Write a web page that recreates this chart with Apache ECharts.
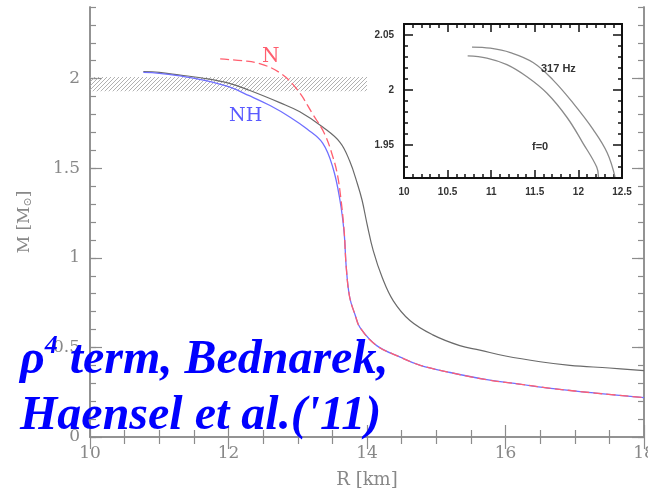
<!DOCTYPE html>
<html>
<head>
<meta charset="utf-8">
<script src="https://cdn.jsdelivr.net/npm/echarts@6/dist/echarts.min.js"></script>
<style>
  html, body { margin: 0; padding: 0; background: #fff; }
  #main { width: 648px; height: 493px; }
</style>
</head>
<body>
<div id="main"></div>
<script>
// main panel: M(R) curves
var blackR = [10.77, 11.0, 11.3, 11.6, 12.0, 12.3, 12.74, 13.03, 13.36, 13.61, 13.75, 13.86, 13.93, 14.0, 14.09, 14.22, 14.38, 14.62, 14.95, 15.34, 15.63, 16.0, 16.5, 16.93, 17.5, 18.0];
var blackM = [2.04, 2.035, 2.02, 2.005, 1.975, 1.935, 1.866, 1.815, 1.73, 1.645, 1.54, 1.415, 1.32, 1.19, 1.04, 0.89, 0.76, 0.65, 0.57, 0.51, 0.485, 0.452, 0.42, 0.40, 0.385, 0.37];

var nhR = [10.77, 11.0, 11.3, 11.6, 12.0, 12.3, 12.6, 12.89, 13.13, 13.36, 13.51, 13.61, 13.67, 13.70, 13.75, 13.83, 13.90, 14.14, 14.48, 14.77, 15.2, 15.73, 16.2, 16.69, 17.3, 18.0];
var nhM = [2.035, 2.03, 2.015, 1.995, 1.955, 1.905, 1.85, 1.785, 1.72, 1.64, 1.50, 1.32, 1.14, 0.95, 0.78, 0.68, 0.61, 0.51, 0.446, 0.40, 0.36, 0.32, 0.295, 0.27, 0.245, 0.22];

var nR = [11.88, 12.2, 12.45, 12.74, 12.99, 13.22, 13.39, 13.51, 13.57, 13.62, 13.67, 13.70, 13.75, 13.83, 13.90, 14.14, 14.48, 14.77, 15.2, 15.73, 16.2, 16.69, 17.3, 18.0];
var nM = [2.11, 2.10, 2.084, 2.033, 1.94, 1.80, 1.69, 1.56, 1.47, 1.34, 1.15, 0.95, 0.78, 0.68, 0.61, 0.51, 0.446, 0.40, 0.36, 0.32, 0.295, 0.27, 0.245, 0.22];

// observed mass band
var bandR = [10, 14];
var bandM = [1.93, 2.01];

// inset: rotating vs static
var hzR = [10.78, 10.99, 11.22, 11.48, 11.71, 11.94, 12.17, 12.33, 12.42];
var hzM = [2.039, 2.038, 2.034, 2.025, 2.009, 1.988, 1.964, 1.943, 1.921];
var f0R = [10.73, 10.95, 11.18, 11.41, 11.64, 11.87, 12.05, 12.21, 12.23];
var f0M = [2.031, 2.029, 2.023, 2.012, 1.997, 1.975, 1.952, 1.930, 1.921];

var mainYMajor = [0, 0.5, 1, 1.5, 2];
var insetYMajor = [1.95, 2, 2.05];

function zip(a, b) {
  return a.map(function (v, i) { return [v, b[i]]; });
}

// hatch pattern
var hatch = document.createElement('canvas');
hatch.width = 4; hatch.height = 4;
var ctx = hatch.getContext('2d');
ctx.strokeStyle = '#a8a8a8';
ctx.lineWidth = 0.9;
ctx.beginPath();
ctx.moveTo(0, 4); ctx.lineTo(4, 0);
ctx.moveTo(-1, 1); ctx.lineTo(1, -1);
ctx.moveTo(3, 5); ctx.lineTo(5, 3);
ctx.stroke();

var grayAx = { lineStyle: { color: '#8c8c8c', width: 1.5 } };
var blackAx = { lineStyle: { color: '#111', width: 2 } };
var serif = 'DejaVu Serif';

function mainX(pos, labels) {
  return {
    gridIndex: 0, type: 'value', position: pos, min: 10, max: 18, interval: 2,
    axisLine: grayAx, splitLine: { show: false },
    axisTick: { inside: true, length: 12, lineStyle: { color: '#8c8c8c', width: 1.2 } },
    minorTick: { show: true, splitNumber: 4, length: 7, lineStyle: { color: '#8c8c8c', width: 1.2 } },
    axisLabel: { show: labels, margin: 8, color: '#888', fontFamily: serif, fontSize: 17 },
    name: labels ? 'R [km]' : '', nameLocation: 'middle', nameGap: 34,
    nameTextStyle: { color: '#888', fontFamily: serif, fontSize: 18 }
  };
}
function mainYMinor(pos) {
  return {
    gridIndex: 0, type: 'value', position: pos, min: 0, max: 2.4, interval: 0.1,
    axisLine: grayAx, splitLine: { show: false },
    axisTick: { inside: true, length: 6, lineStyle: { color: '#8c8c8c', width: 1.2 } },
    axisLabel: { show: false }
  };
}
function mainYMaj(pos, labels) {
  return {
    gridIndex: 0, type: 'value', position: pos, min: 0, max: 2.4,
    axisLine: grayAx, splitLine: { show: false },
    axisTick: { inside: true, length: 12, customValues: mainYMajor, lineStyle: { color: '#8c8c8c', width: 1.2 } },
    axisLabel: { show: labels, customValues: mainYMajor, margin: 10, color: '#888', fontFamily: serif, fontSize: 17 },
    name: labels ? 'M [M{sub|⊙}]' : '', nameLocation: 'middle', nameGap: 56, nameRotate: 90,
    nameTextStyle: { color: '#888', fontFamily: serif, fontSize: 17,
      rich: { sub: { fontSize: 11, color: '#888', fontFamily: serif, verticalAlign: 'bottom', padding: [7, 0, 0, 0] } } }
  };
}
function insetX(pos, labels) {
  return {
    gridIndex: 1, type: 'value', position: pos, min: 10, max: 12.5, interval: 0.5,
    axisLine: blackAx, splitLine: { show: false },
    axisTick: { inside: true, length: 8, lineStyle: { color: '#111', width: 1.5 } },
    minorTick: { show: true, splitNumber: 5, length: 4, lineStyle: { color: '#111', width: 1.5 } },
    axisLabel: { show: labels, margin: 9, color: '#333', fontFamily: 'Liberation Sans', fontWeight: 'bold', fontSize: 10 }
  };
}
function insetYMinor(pos) {
  return {
    gridIndex: 1, type: 'value', position: pos, min: 1.92, max: 2.06, interval: 0.01,
    axisLine: blackAx, splitLine: { show: false },
    axisTick: { inside: true, length: 4, lineStyle: { color: '#111', width: 1.5 } },
    axisLabel: { show: false }
  };
}
function insetYMaj(pos, labels) {
  return {
    gridIndex: 1, type: 'value', position: pos, min: 1.92, max: 2.06,
    axisLine: blackAx, splitLine: { show: false },
    axisTick: { inside: true, length: 9, customValues: insetYMajor, lineStyle: { color: '#111', width: 1.5 } },
    axisLabel: { show: labels, customValues: insetYMajor, margin: 10, color: '#333', fontFamily: 'Liberation Sans', fontWeight: 'bold', fontSize: 10 }
  };
}

var myChart = echarts.init(document.getElementById('main'), null, { renderer: 'canvas' });

var option = {
  animation: false,
  backgroundColor: '#fff',
  grid: [
    { left: 90, top: 7, width: 554, height: 430, outerBoundsMode: 'none', containLabel: false },
    { left: 404, top: 24, width: 218, height: 154, outerBoundsMode: 'none', containLabel: false,
      show: true, backgroundColor: '#fff', borderWidth: 0 }
  ],
  xAxis: [mainX('bottom', true), mainX('top', false), insetX('bottom', true), insetX('top', false)],
  yAxis: [mainYMinor('left'), mainYMaj('left', true), mainYMinor('right'), mainYMaj('right', false),
          insetYMinor('left'), insetYMaj('left', true), insetYMinor('right'), insetYMaj('right', false)],
  series: [
    {
      type: 'line', xAxisIndex: 0, yAxisIndex: 0, data: zip(blackR, blackM),
      showSymbol: false, smooth: 0.4,
      lineStyle: { color: '#6a6a6a', width: 1.2 },
      markArea: {
        silent: true,
        itemStyle: { color: { image: hatch, repeat: 'repeat' } },
        data: [[{ xAxis: bandR[0], yAxis: bandM[0] }, { xAxis: bandR[1], yAxis: bandM[1] }]]
      }
    },
    {
      type: 'line', xAxisIndex: 0, yAxisIndex: 0, data: zip(nhR, nhM),
      showSymbol: false, smooth: 0.4,
      lineStyle: { color: '#6f6fff', width: 1.3 }
    },
    {
      type: 'line', xAxisIndex: 0, yAxisIndex: 0, data: zip(nR, nM),
      showSymbol: false, smooth: 0.4,
      lineStyle: { color: '#ff5f6f', width: 1.3, type: [9, 4] }
    },
    {
      type: 'line', xAxisIndex: 2, yAxisIndex: 4, data: zip(hzR, hzM),
      showSymbol: false, smooth: 0.4, lineStyle: { color: '#8a8a8a', width: 1.3 }
    },
    {
      type: 'line', xAxisIndex: 2, yAxisIndex: 4, data: zip(f0R, f0M),
      showSymbol: false, smooth: 0.4, lineStyle: { color: '#8a8a8a', width: 1.3 }
    }
  ],
  graphic: [
    { type: 'text', left: 262, top: 47, z: 20, style: { text: 'N', fill: '#ff5f6f', font: '20px "DejaVu Serif"' } },
    { type: 'text', left: 229, top: 107, z: 20, style: { text: 'NH', fill: '#5a5aff', font: '19px "DejaVu Serif"' } },
    { type: 'text', left: 541, top: 63, z: 20, style: { text: '317 Hz', fill: '#333', font: 'bold 11px "Liberation Sans"' } },
    { type: 'text', left: 532, top: 141, z: 20, style: { text: 'f=0', fill: '#333', font: 'bold 11px "Liberation Sans"' } },
    {
      type: 'text', left: 20, top: 333, z: 30,
      style: {
        text: '{a|ρ}{s|4}{a| term, Bednarek,}\n{a|Haensel et al.(\'11)}',
        rich: {
          a: { fill: '#0000ff', fontFamily: 'Liberation Serif', fontStyle: 'italic', fontWeight: 'bold', fontSize: 48, lineHeight: 56 },
          s: { fill: '#0000ff', fontFamily: 'Liberation Serif', fontStyle: 'italic', fontWeight: 'bold', fontSize: 26, verticalAlign: 'top', lineHeight: 56 }
        }
      }
    }
  ]
};

myChart.setOption(option);
</script>
</body>
</html>
